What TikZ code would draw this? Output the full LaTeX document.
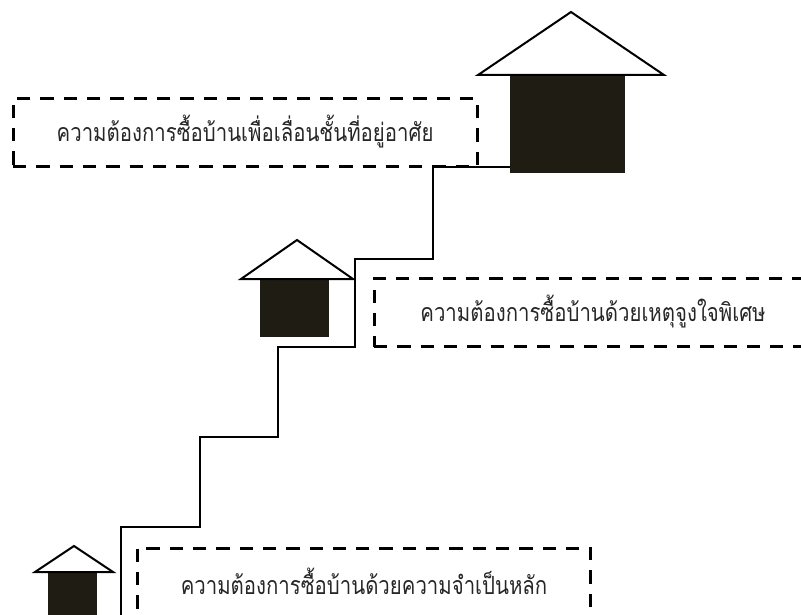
\documentclass[tikz,border=0pt]{standalone}
\usepackage{fontspec}
\newfontfamily\thaifont[Script=Thai]{Loma}
\definecolor{bodyc}{HTML}{1F1C13}
\tikzset{
  dashbox/.style={draw=black,line width=3pt,dash pattern=on 13.3pt off 10pt,inner sep=0pt,minimum height=68pt},
  thaitext/.style={font=\thaifont\fontsize{25}{28}\selectfont,inner sep=0pt,xscale=0.815,transform shape,text=black!85},
  roof/.style={draw=black,line width=2pt,line join=miter,fill=white},
  body/.style={fill=bodyc,draw=none,inner sep=0pt},
  stairs/.style={draw=black,line width=2pt,line join=miter}
}
\begin{document}
\begin{tikzpicture}[x=1pt,y=-1pt]
\useasboundingbox (0,0) rectangle (801,615);
% dashed boxes
\node[dashbox,minimum width=464pt] (box1) at (245,133) {};
\node[dashbox,minimum width=438pt] (box2) at (593,312.5) {};
\node[dashbox,minimum width=453pt,minimum height=72pt] (box3) at (363.5,584) {};
\node[thaitext] (t1) at (245,132) {ความต้องการซื้อบ้านเพื่อเลื่อนชั้นที่อยู่อาศัย};
\node[thaitext] (t2) at (593,312) {ความต้องการซื้อบ้านด้วยเหตุจูงใจพิเศษ};
\node[thaitext] (t3) at (364,581) {ความต้องการซื้อบ้านด้วยความจำเป็นหลัก};
% houses
\node[body,minimum width=115pt,minimum height=98pt] (h1) at (567.5,124) {};
\node[body,minimum width=69pt,minimum height=58pt] (h2) at (294.5,308) {};
\node[body,minimum width=49pt,minimum height=46pt] (h3) at (72.5,595) {};
\coordinate (r1a) at (571,12);\coordinate (r1b) at (478,75);\coordinate (r1c) at (664,75);
\coordinate (r2a) at (297,240);\coordinate (r2b) at (241,279);\coordinate (r2c) at (353,279);
\coordinate (r3a) at (74,546);\coordinate (r3b) at (35,572);\coordinate (r3c) at (113,572);
\draw[roof] (r1a) -- (r1b) -- (r1c) -- cycle;
\draw[roof] (r2a) -- (r2b) -- (r2c) -- cycle;
\draw[roof] (r3a) -- (r3b) -- (r3c) -- cycle;
% stairs
\coordinate (s0) at (510,167);
\coordinate (s1) at (433,167);
\coordinate (s2) at (433,258.5);
\coordinate (s3) at (355,258.5);
\coordinate (s4) at (355,347);
\coordinate (s5) at (277.5,347);
\coordinate (s6) at (277.5,437);
\coordinate (s7) at (200,437);
\coordinate (s8) at (200,527);
\coordinate (s9) at (121,527);
\coordinate (s10) at (121,620);
\draw[stairs] (s0) -- (s1) -- (s2) -- (s3) -- (s4) -- (s5) -- (s6) -- (s7) -- (s8) -- (s9) -- (s10);
\end{tikzpicture}
\end{document}
